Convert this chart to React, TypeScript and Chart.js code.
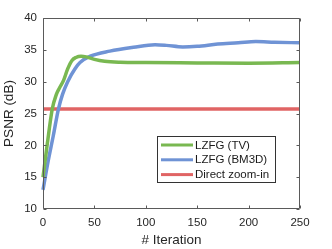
import React, { useEffect, useRef } from "react";
import { Chart, registerables } from "chart.js";

Chart.register(...registerables);

const tvX = [0, 4, 9, 13, 16, 20, 24, 28, 32, 37, 42, 50, 60, 75, 100, 150, 200, 250];
const tvY = [15, 20, 25.7, 28, 29, 30.2, 32, 33.3, 33.8, 34.0, 33.9, 33.5, 33.2, 33.05, 33.0, 32.95, 32.9, 33.0];

const bmX = [0, 5, 10, 15, 19, 24, 31, 36, 46, 65, 88, 109, 120, 136, 150, 170, 190, 207, 225, 250];
const bmY = [13, 17.5, 21.5, 25.7, 28, 30, 32, 33, 34, 34.8, 35.4, 35.8, 35.7, 35.45, 35.55, 35.9, 36.1, 36.3, 36.2, 36.1];

const directX = [0, 250];
const directY = [25.7, 25.7];

const seriesLabels = ["LZFG (TV)", "LZFG (BM3D)", "Direct zoom-in"];
const seriesColors = ["#79b851", "#6f93d5", "#e06464"];

const xTicks = [0, 50, 100, 150, 200, 250];
const yTicks = [10, 15, 20, 25, 30, 35, 40];

const toPts = (xs: number[], ys: number[]) => xs.map((x, i) => ({ x, y: ys[i] }));

const FONT = "'Liberation Sans', Arial, Helvetica, sans-serif";

const boxPlugin = {
  id: "matlabBox",
  afterDatasetsDraw(chart: any) {
    const { ctx, chartArea } = chart;
    const { left, right, top, bottom } = chartArea;
    const xs = chart.scales.x;
    const ys = chart.scales.y;
    ctx.save();
    ctx.strokeStyle = "#5a5a5a";
    ctx.lineWidth = 1;
    ctx.beginPath();
    const L = Math.round(left) + 0.5;
    const R = Math.round(right) - 0.5;
    const T = Math.round(top) + 0.5;
    const B = Math.round(bottom) - 0.5;
    ctx.rect(L, T, R - L, B - T);
    const tl = 3;
    xTicks.forEach((v) => {
      const px = Math.round(xs.getPixelForValue(v)) + 0.5;
      ctx.moveTo(px, B);
      ctx.lineTo(px, B - tl);
      ctx.moveTo(px, T);
      ctx.lineTo(px, T + tl);
    });
    yTicks.forEach((v) => {
      const py = Math.round(ys.getPixelForValue(v)) + 0.5;
      ctx.moveTo(L, py);
      ctx.lineTo(L + tl, py);
      ctx.moveTo(R, py);
      ctx.lineTo(R - tl, py);
    });
    ctx.stroke();
    ctx.restore();
  },
  afterDraw(chart: any) {
    const { ctx } = chart;
    const xs = chart.scales.x;
    const ys = chart.scales.y;
    const bx = Math.round(xs.getPixelForValue(110.5)) + 0.5;
    const by = Math.round(ys.getPixelForValue(21.5)) + 0.5;
    const bw = 118;
    const bh = 46;
    ctx.save();
    ctx.fillStyle = "#ffffff";
    ctx.fillRect(bx, by, bw, bh);
    ctx.strokeStyle = "#333333";
    ctx.lineWidth = 1;
    ctx.strokeRect(bx, by, bw, bh);
    ctx.font = `11.5px ${FONT}`;
    ctx.textBaseline = "middle";
    chart.data.datasets.forEach((ds: any, i: number) => {
      const cy = by + 8.5 + i * 14.8;
      ctx.strokeStyle = ds.borderColor;
      ctx.lineWidth = 3;
      ctx.beginPath();
      ctx.moveTo(bx + 3.5, cy);
      ctx.lineTo(bx + 35.5, cy);
      ctx.stroke();
      ctx.fillStyle = "#1a1a1a";
      ctx.fillText(ds.label, bx + 37.5, cy + 0.5);
    });
    ctx.restore();
  },
};

export default function App() {
  const ref = useRef<HTMLCanvasElement | null>(null);
  useEffect(() => {
    document.body.style.margin = "0";
    const canvas = ref.current;
    if (!canvas) return;
    const chart = new Chart(canvas, {
      type: "line",
      data: {
        datasets: [
          { label: seriesLabels[0], data: toPts(tvX, tvY), borderColor: seriesColors[0] },
          { label: seriesLabels[1], data: toPts(bmX, bmY), borderColor: seriesColors[1] },
          { label: seriesLabels[2], data: toPts(directX, directY), borderColor: seriesColors[2] },
        ].map((d) => ({
          ...d,
          borderWidth: 3.5,
          pointRadius: 0,
          fill: false,
          tension: 0.4,
          cubicInterpolationMode: "monotone" as const,
          clip: 2,
        })),
      },
      options: {
        animation: false,
        responsive: false,
        devicePixelRatio: 1,
        layout: { padding: { left: 0, right: 32, top: 18, bottom: 0 } },
        plugins: { legend: { display: false }, tooltip: { enabled: false } },
        scales: {
          x: {
            type: "linear",
            min: 0,
            max: 250,
            afterBuildTicks: (s: any) => {
              s.ticks = xTicks.map((v) => ({ value: v }));
            },
            afterFit: (s: any) => {
              s.height = 40;
            },
            grid: { display: false, drawTicks: false },
            border: { display: false },
            ticks: { padding: 7, color: "#262626", font: { family: FONT, size: 11.5 }, maxRotation: 0 },
            title: {
              display: true,
              text: "# Iteration",
              color: "#262626",
              font: { family: FONT, size: 13.5 },
              padding: { top: 0, bottom: 1 },
            },
          },
          y: {
            type: "linear",
            min: 10,
            max: 40,
            afterBuildTicks: (s: any) => {
              s.ticks = yTicks.map((v) => ({ value: v }));
            },
            afterFit: (s: any) => {
              s.width = 43;
            },
            grid: { display: false, drawTicks: false },
            border: { display: false },
            ticks: { padding: 6, color: "#262626", font: { family: FONT, size: 11.5 } },
            title: {
              display: true,
              text: "PSNR (dB)",
              color: "#262626",
              font: { family: FONT, size: 13.5 },
              padding: { top: 1, bottom: 0 },
            },
          },
        },
      },
      plugins: [boxPlugin],
    } as any);
    return () => chart.destroy();
  }, []);
  return (
    <div style={{ width: 332, height: 249, background: "#fff" }}>
      <canvas ref={ref} width={332} height={249} style={{ display: "block", width: 332, height: 249 }} />
    </div>
  );
}
